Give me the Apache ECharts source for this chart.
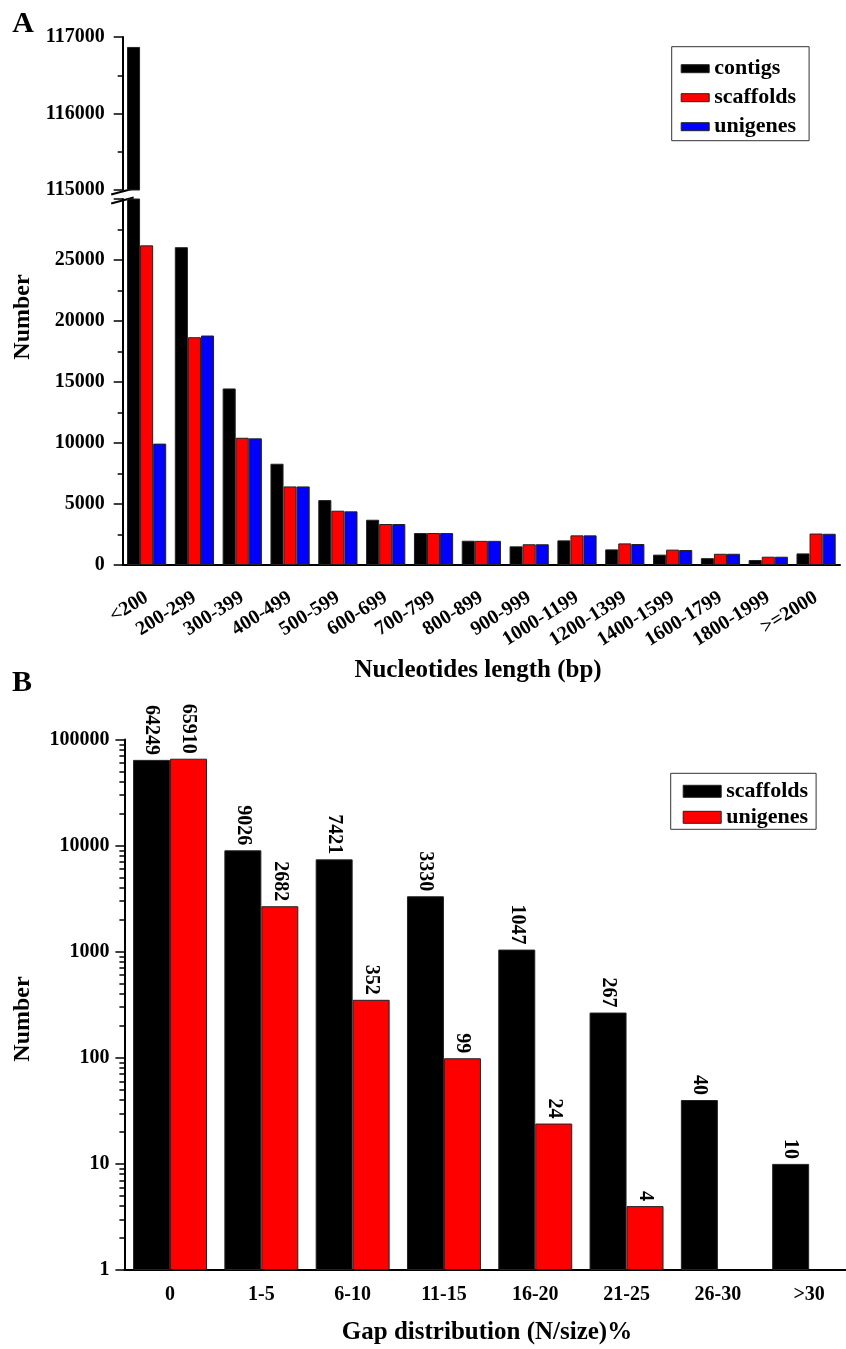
<!DOCTYPE html>
<html>
<head>
<meta charset="utf-8">
<script src="https://cdn.jsdelivr.net/npm/echarts@6/dist/echarts.min.js"></script>
<style>
html,body{margin:0;padding:0;background:#fff;}
#chart{width:846px;height:1349px;}
</style>
</head>
<body>
<div id="chart"></div>
<script>
// ---------- Panel A data ----------
const categoriesA = ['<200','200-299','300-399','400-499','500-599','600-699','700-799','800-899','900-999','1000-1199','1200-1399','1400-1599','1600-1799','1800-1999','>=2000'];
const contigsA   = [116870, 26050, 14470, 8300, 5320, 3710, 2620, 1990, 1530, 2020, 1280, 850, 560, 410, 950];
const scaffoldsA = [26200, 18670, 10430, 6440, 4450, 3360, 2620, 1980, 1700, 2430, 1770, 1260, 920, 680, 2580];
const unigenesA  = [9950, 18810, 10380, 6440, 4400, 3360, 2620, 1980, 1700, 2430, 1720, 1230, 920, 680, 2560];
const upperTicksA = [115000, 116000, 117000];
const lowerTicksA = [0, 5000, 10000, 15000, 20000, 25000, 30000];

// ---------- Panel B data ----------
const categoriesB = ['0','1-5','6-10','11-15','16-20','21-25','26-30','>30'];
const scaffoldsB = [64249, 9026, 7421, 3330, 1047, 267, 40, 10];
const unigenesB  = [65910, 2682, 352, 99, 24, 4, null, null];
const logTicksB = [1, 10, 100, 1000, 10000, 100000];

const FONT = "'Liberation Serif', 'Times New Roman', serif";
const BLACK = '#000000', RED = '#FF0000', BLUE = '#0000FF';

// layout
const gA = {left: 122.7, width: 717.3};
const gUp = {top: 37, height: 153};
const gLo = {top: 199, height: 366};
const gB = {left: 124.4, width: 730.4, top: 739.5, height: 530.5};

const minorLog = [];
for (let d = 1; d < 100000; d *= 10) for (let k = 2; k <= 9; k++) minorLog.push(d * k);

const lineStyle = {color: '#000', width: 2};
const tickStyle = {color: '#000', width: 1.5};
const labelFont = {fontFamily: FONT, fontWeight: 'bold', color: '#000'};

const chart = echarts.init(document.getElementById('chart'), null, {renderer: 'canvas'});

const cut = (arr) => arr.map(v => (v != null && v >= upperTicksA[0]) ? v : null);
const barA = (name, color, data, xi, yi) => ({
  name, type: 'bar', xAxisIndex: xi, yAxisIndex: yi, data,
  barGap: '0%', barCategoryGap: '18%', clip: true,
  itemStyle: {color, borderColor: '#222', borderWidth: 1},
  emphasis: {disabled: true}, silent: true
});
const barB = (name, color, data) => ({
  name, type: 'bar', xAxisIndex: 3, yAxisIndex: 2, data,
  barGap: '0%', barCategoryGap: '19%',
  itemStyle: {color, borderColor: '#222', borderWidth: 1},
  label: {show: true, position: 'top', rotate: -90, align: 'right', verticalAlign: 'middle',
          distance: 5, fontSize: 20, ...labelFont},
  emphasis: {disabled: true}, silent: true
});

const yLabel = (size, margin) => ({fontSize: size, margin, ...labelFont, formatter: v => String(v)});

// break marks geometry derived from grid constants
const axX = gA.left;
const bUp = gUp.top + gUp.height, bLo = gLo.top;

chart.setOption({
  animation: false,
  backgroundColor: '#fff',
  grid: [
    {left: gA.left, width: gA.width, top: gUp.top, height: gUp.height, outerBoundsMode: 'none'},
    {left: gA.left, width: gA.width, top: gLo.top, height: gLo.height, outerBoundsMode: 'none'},
    {left: gB.left, width: gB.width, top: gB.top, height: gB.height, outerBoundsMode: 'none'}
  ],
  xAxis: [
    {type: 'category', gridIndex: 0, data: categoriesA, show: false},
    {type: 'category', gridIndex: 1, data: categoriesA, position: 'bottom',
     axisLine: {lineStyle, onZero: false},
     axisTick: {alignWithLabel: true, length: 8, lineStyle: tickStyle},
     axisLabel: {rotate: 32, margin: 31, interval: 0, fontSize: 20, ...labelFont}},
    {type: 'category', gridIndex: 1, data: categoriesA, position: 'bottom',
     axisLine: {show: false, onZero: false},
     axisTick: {length: 4, lineStyle: tickStyle},
     axisLabel: {show: false}},
    {type: 'category', gridIndex: 2, data: categoriesB, position: 'bottom',
     axisLine: {lineStyle, onZero: false},
     axisTick: {alignWithLabel: true, length: 8, lineStyle: tickStyle},
     axisLabel: {margin: 15, interval: 0, fontSize: 20, ...labelFont}},
    {type: 'category', gridIndex: 2, data: categoriesB, position: 'bottom',
     axisLine: {show: false, onZero: false},
     axisTick: {length: 4, lineStyle: tickStyle},
     axisLabel: {show: false}}
  ],
  yAxis: [
    {type: 'value', gridIndex: 0, position: 'left',
     min: upperTicksA[0], max: upperTicksA[upperTicksA.length - 1], interval: 1000,
     axisLine: {show: true, lineStyle}, splitLine: {show: false},
     axisTick: {show: true, length: 9, lineStyle: tickStyle},
     minorTick: {show: true, splitNumber: 2, length: 5, lineStyle: tickStyle},
     axisLabel: yLabel(20, 18)},
    {type: 'value', gridIndex: 1, position: 'left',
     min: lowerTicksA[0], max: lowerTicksA[lowerTicksA.length - 1], interval: 5000,
     axisLine: {show: true, lineStyle}, splitLine: {show: false},
     axisTick: {show: true, length: 9, lineStyle: tickStyle},
     minorTick: {show: true, splitNumber: 2, length: 5, lineStyle: tickStyle},
     axisLabel: {...yLabel(20, 18), showMaxLabel: false}},
    {type: 'log', logBase: 10, gridIndex: 2, position: 'left',
     min: logTicksB[0], max: logTicksB[logTicksB.length - 1],
     axisLine: {show: true, lineStyle}, splitLine: {show: false},
     axisTick: {show: true, length: 9, lineStyle: tickStyle, customValues: logTicksB},
     axisLabel: {...yLabel(20, 15), customValues: logTicksB}},
    {type: 'log', logBase: 10, gridIndex: 2, position: 'left', offset: 0,
     min: logTicksB[0], max: logTicksB[logTicksB.length - 1],
     axisLine: {show: false}, splitLine: {show: false},
     axisTick: {show: true, length: 5, lineStyle: tickStyle, customValues: minorLog},
     axisLabel: {show: false}}
  ],
  legend: [
    {left: 671.7, top: 46.7, orient: 'vertical', selectedMode: false,
     borderColor: '#333', borderWidth: 1, padding: [11, 13, 3, 9],
     itemWidth: 28, itemHeight: 8, itemGap: 7, icon: 'rect',
     textStyle: {fontSize: 22, lineHeight: 21, ...labelFont},
     data: [
       {name: 'contigs', itemStyle: {color: BLACK, borderColor: '#222', borderWidth: 1}},
       {name: 'scaffolds', itemStyle: {color: RED, borderColor: '#222', borderWidth: 1}},
       {name: 'unigenes', itemStyle: {color: BLUE, borderColor: '#222', borderWidth: 1}}
     ]},
    {left: 670.7, top: 773.3, orient: 'vertical', selectedMode: false,
     borderColor: '#333', borderWidth: 1, padding: [7, 8, 1, 12],
     itemWidth: 38, itemHeight: 12, itemGap: 4, icon: 'rect',
     textStyle: {fontSize: 22, lineHeight: 21, ...labelFont},
     data: [
       {name: 'scaffolds', itemStyle: {color: BLACK, borderColor: '#222', borderWidth: 1}},
       {name: 'unigenes', itemStyle: {color: RED, borderColor: '#222', borderWidth: 1}}
     ]}
  ],
  series: [
    barA('contigs', BLACK, cut(contigsA), 0, 0),
    barA('scaffolds', RED, cut(scaffoldsA), 0, 0),
    barA('unigenes', BLUE, cut(unigenesA), 0, 0),
    barA('contigs', BLACK, contigsA, 1, 1),
    barA('scaffolds', RED, scaffoldsA, 1, 1),
    barA('unigenes', BLUE, unigenesA, 1, 1),
    barB('scaffolds', BLACK, scaffoldsB),
    barB('unigenes', RED, unigenesB)
  ],
  graphic: [
    {type: 'text', x: 23, y: 24, style: {text: 'A', font: 'bold 30px ' + FONT, fill: '#000', align: 'center', verticalAlign: 'middle'}},
    {type: 'text', x: 22, y: 683, style: {text: 'B', font: 'bold 30px ' + FONT, fill: '#000', align: 'center', verticalAlign: 'middle'}},
    {type: 'text', x: 23, y: 317, rotation: Math.PI / 2, style: {text: 'Number', font: 'bold 24px ' + FONT, fill: '#000', align: 'center', verticalAlign: 'middle'}},
    {type: 'text', x: 23, y: 1019, rotation: Math.PI / 2, style: {text: 'Number', font: 'bold 24px ' + FONT, fill: '#000', align: 'center', verticalAlign: 'middle'}},
    {type: 'text', x: 478, y: 671, style: {text: 'Nucleotides length (bp)', font: 'bold 25px ' + FONT, fill: '#000', align: 'center', verticalAlign: 'middle'}},
    {type: 'text', x: 487, y: 1333, style: {text: 'Gap distribution (N/size)%', font: 'bold 25px ' + FONT, fill: '#000', align: 'center', verticalAlign: 'middle'}},
    {type: 'line', shape: {x1: axX - 11.5, y1: bUp + 4.5, x2: axX + 11, y2: bUp - 1.5}, style: {stroke: '#000', lineWidth: 2}},
    {type: 'line', shape: {x1: axX - 11.5, y1: bLo + 4.5, x2: axX + 11, y2: bLo - 1.5}, style: {stroke: '#000', lineWidth: 2}}
  ]
});
</script>
</body>
</html>
